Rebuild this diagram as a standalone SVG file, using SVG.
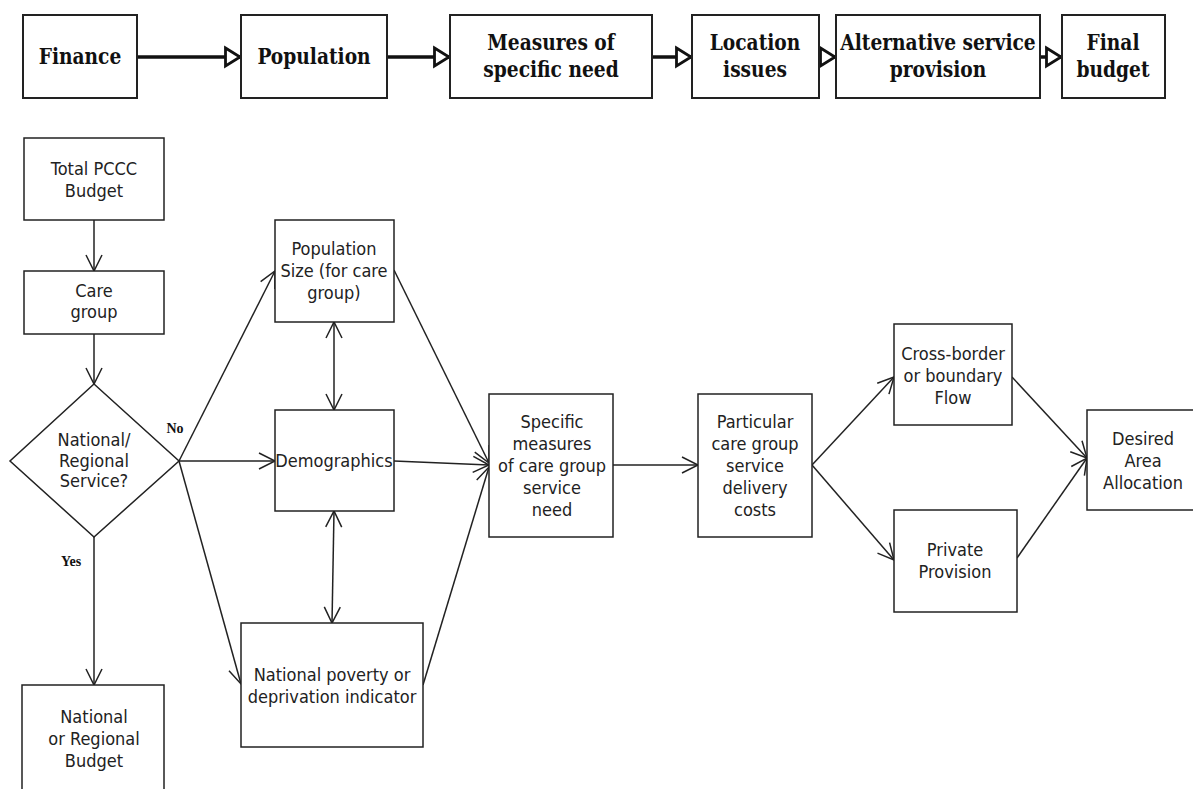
<svg xmlns="http://www.w3.org/2000/svg" width="1193" height="789" viewBox="0 0 1193 789">
<style>
.tb{fill:#fff;stroke:#222;stroke-width:2}
.bx{fill:#fff;stroke:#222;stroke-width:1.5}
.tt{font-family:"DejaVu Serif","Liberation Serif",serif;font-weight:bold;font-stretch:condensed;font-size:23px;fill:#111;text-anchor:middle}
.t{font-family:"DejaVu Sans","Liberation Sans",sans-serif;font-stretch:condensed;font-size:18px;fill:#222;text-anchor:middle}
.lbl{font-family:"Liberation Serif","DejaVu Serif",serif;font-weight:bold;font-size:14px;fill:#111;text-anchor:middle}
.ta{fill:none;stroke:#111;stroke-width:3.5;marker-end:url(#tri)}
.c{fill:none;stroke:#222;stroke-width:1.5;marker-end:url(#v)}
.cd{fill:none;stroke:#222;stroke-width:1.5;marker-end:url(#v);marker-start:url(#v)}
</style>
<defs>
<marker id="tri" markerUnits="userSpaceOnUse" markerWidth="22" markerHeight="24" refX="17" refY="10" orient="auto" viewBox="-2 -2 22 24">
<path d="M1.5,1 L16,10 L1.5,19 Z" fill="#fff" stroke="#111" stroke-width="2.8"/>
</marker>
<marker id="v" markerUnits="userSpaceOnUse" markerWidth="20" markerHeight="20" refX="17" refY="9" orient="auto-start-reverse" viewBox="0 0 20 20">
<path d="M1,1 L17,9 L1,17" fill="none" stroke="#222" stroke-width="1.5"/>
</marker>
</defs>

<g id="connectors">
<line class="ta" x1="137" y1="57" x2="241" y2="57"/>
<line class="ta" x1="387" y1="57" x2="450" y2="57"/>
<line class="ta" x1="652" y1="57" x2="692" y2="57"/>
<line class="ta" x1="819" y1="57" x2="836" y2="57"/>
<line class="ta" x1="1040" y1="57" x2="1062" y2="57"/>

<line class="c" x1="94" y1="220" x2="94" y2="271"/>
<line class="c" x1="94" y1="334" x2="94" y2="384"/>
<line class="c" x1="94" y1="537" x2="94" y2="685"/>
<line class="c" x1="179" y1="461" x2="275" y2="271"/>
<line class="c" x1="179" y1="461" x2="275" y2="461"/>
<line class="c" x1="179" y1="461" x2="241" y2="684"/>
<line class="cd" x1="334" y1="322" x2="334" y2="410"/>
<line class="cd" x1="334" y1="511" x2="332" y2="623"/>
<line class="c" x1="394" y1="270" x2="489" y2="463"/>
<line class="c" x1="394" y1="461" x2="489" y2="465"/>
<line class="c" x1="423" y1="685" x2="489" y2="467"/>
<line class="c" x1="613" y1="465" x2="698" y2="465"/>
<line class="c" x1="812" y1="465" x2="894" y2="377"/>
<line class="c" x1="812" y1="465" x2="894" y2="560"/>
<line class="c" x1="1012" y1="377" x2="1087" y2="458"/>
<line class="c" x1="1017" y1="558" x2="1087" y2="458"/>
</g>

<g id="finance"><rect class="tb" x="23" y="15" width="114" height="83"/><g transform="translate(80,0) scale(0.9,1)"><text class="tt" x="0" y="64">Finance</text></g></g>
<g id="population"><rect class="tb" x="241" y="15" width="146" height="83"/><g transform="translate(314,0) scale(0.9,1)"><text class="tt" x="0" y="64">Population</text></g></g>
<g id="measures"><rect class="tb" x="450" y="15" width="202" height="83"/><g transform="translate(551,0) scale(0.9,1)"><text class="tt" x="0" y="50">Measures of</text><text class="tt" x="0" y="77">specific need</text></g></g>
<g id="location"><rect class="tb" x="692" y="15" width="127" height="83"/><g transform="translate(755,0) scale(0.9,1)"><text class="tt" x="0" y="50">Location</text><text class="tt" x="0" y="77">issues</text></g></g>
<g id="alternative"><rect class="tb" x="836" y="15" width="204" height="83"/><g transform="translate(938,0) scale(0.9,1)"><text class="tt" x="0" y="50">Alternative service</text><text class="tt" x="0" y="77">provision</text></g></g>
<g id="final-budget"><rect class="tb" x="1062" y="15" width="103" height="83"/><g transform="translate(1113,0) scale(0.9,1)"><text class="tt" x="0" y="50">Final</text><text class="tt" x="0" y="77">budget</text></g></g>

<g id="total-pccc"><rect class="bx" x="24" y="138" width="140" height="82"/><text class="t" x="94" y="175">Total PCCC</text><text class="t" x="94" y="197">Budget</text></g>
<g id="care-group"><rect class="bx" x="24" y="271" width="140" height="63"/><text class="t" x="94" y="297">Care</text><text class="t" x="94" y="318">group</text></g>
<g id="decision"><polygon class="bx" points="94,384 179,461 94,537 10,461"/><text class="t" x="94" y="446">National/</text><text class="t" x="94" y="467">Regional</text><text class="t" x="94" y="487">Service?</text></g>
<g id="label-no"><text class="lbl" x="175" y="433">No</text></g>
<g id="label-yes"><text class="lbl" x="71" y="566">Yes</text></g>
<g id="national-budget"><rect class="bx" x="22" y="685" width="142" height="120"/><text class="t" x="94" y="723">National</text><text class="t" x="94" y="745">or Regional</text><text class="t" x="94" y="767">Budget</text></g>
<g id="population-size"><rect class="bx" x="275" y="220" width="119" height="102"/><text class="t" x="334" y="255">Population</text><text class="t" x="334" y="277">Size (for care</text><text class="t" x="334" y="299">group)</text></g>
<g id="demographics"><rect class="bx" x="275" y="410" width="119" height="101"/><text class="t" x="334" y="467">Demographics</text></g>
<g id="poverty"><rect class="bx" x="241" y="623" width="182" height="124"/><text class="t" x="332" y="681">National poverty or</text><text class="t" x="332" y="703">deprivation indicator</text></g>
<g id="specific-measures"><rect class="bx" x="489" y="394" width="124" height="143"/><text class="t" x="552" y="428">Specific</text><text class="t" x="552" y="450">measures</text><text class="t" x="552" y="472">of care group</text><text class="t" x="552" y="494">service</text><text class="t" x="552" y="516">need</text></g>
<g id="particular"><rect class="bx" x="698" y="394" width="114" height="143"/><text class="t" x="755" y="428">Particular</text><text class="t" x="755" y="450">care group</text><text class="t" x="755" y="472">service</text><text class="t" x="755" y="494">delivery</text><text class="t" x="755" y="516">costs</text></g>
<g id="cross-border"><rect class="bx" x="894" y="324" width="118" height="101"/><text class="t" x="953" y="360">Cross-border</text><text class="t" x="953" y="382">or boundary</text><text class="t" x="953" y="404">Flow</text></g>
<g id="private"><rect class="bx" x="894" y="510" width="123" height="102"/><text class="t" x="955" y="556">Private</text><text class="t" x="955" y="578">Provision</text></g>
<g id="desired"><rect class="bx" x="1087" y="410" width="115" height="100"/><text class="t" x="1143" y="445">Desired</text><text class="t" x="1143" y="467">Area</text><text class="t" x="1143" y="489">Allocation</text></g>
</svg>
